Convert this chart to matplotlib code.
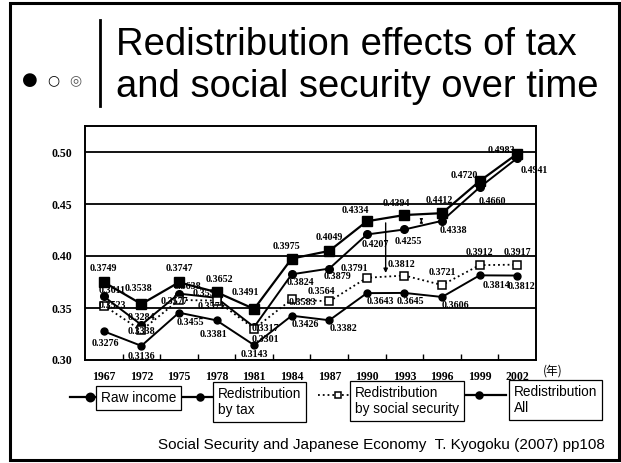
import matplotlib
matplotlib.use("Agg")
import matplotlib.pyplot as plt
from matplotlib.lines import Line2D
from matplotlib.patches import Rectangle

# --- data (Gini coefficients) ---
years = ["1967", "1972", "1975", "1978", "1981", "1984", "1987",
         "1990", "1993", "1996", "1999", "2002"]
raw_income = [0.3749, 0.3538, 0.3747, 0.3652, 0.3491, 0.3975, 0.4049,
              0.4334, 0.4394, 0.4412, 0.4720, 0.4983]
by_tax = [0.3611, 0.3338, 0.3638, 0.3598, 0.3317, 0.3824, 0.3879,
          0.4207, 0.4255, 0.4338, 0.4660, 0.4941]
by_social_security = [0.3523, 0.3284, 0.3577, 0.3571, 0.3301, 0.3583, 0.3564,
                      0.3791, 0.3812, 0.3721, 0.3912, 0.3917]
redistribution_all = [0.3276, 0.3136, 0.3455, 0.3381, 0.3143, 0.3426, 0.3382,
                      0.3643, 0.3645, 0.3606, 0.3814, 0.3812]

W, H = 621, 463


def px(x, y):
    """Pixel position -> figure fraction."""
    return x / W, 1 - y / H


fig = plt.figure(figsize=(W / 100, H / 100), dpi=100)

# slide frame
fig.add_artist(Rectangle(px(10, 460), 609 / W, 457 / H, transform=fig.transFigure,
                         fill=False, lw=2.2, ec="black"))

# title block
by = 1 - 80 / H
fig.text(30 / W, by, "\u25CF", fontsize=13, ha="center", va="center", family="DejaVu Sans")
fig.text(53 / W, by, "\u25CB", fontsize=10, ha="center", va="center", family="DejaVu Sans")
fig.text(75 / W, by, "\u25CE", fontsize=10, ha="center", va="center", family="DejaVu Sans",
         color="#555555")
fig.add_artist(Line2D([100 / W, 100 / W], [1 - 20 / H, 1 - 106 / H],
                      transform=fig.transFigure, color="black", lw=2))
fig.text(116 / W, 1 - 45 / H, "Redistribution effects of tax", fontsize=27.5,
         family="Liberation Sans", va="center", ha="left")
fig.text(116 / W, 1 - 87 / H, "and social security over time", fontsize=27.5,
         family="Liberation Sans", va="center", ha="left")

# chart
left, bottom = px(85, 360)
right, top = px(536, 126)
ax = fig.add_axes([left, bottom, right - left, top - bottom])
x = list(range(len(years)))

ax.set_xlim(-0.5, len(years) - 0.5)
ax.set_ylim(0.30, 0.525)
for g in [0.35, 0.40, 0.45, 0.50]:
    ax.axhline(g, color="black", lw=1.3, zorder=1)
for s in ax.spines.values():
    s.set_linewidth(1.4)

ax.plot(x, raw_income, "-", color="black", lw=1.6, marker="s", ms=6.5, zorder=3)
ax.plot(x, by_tax, "-", color="black", lw=1.4, marker="o", ms=5.5, zorder=3)
ax.plot(x, by_social_security, ":", color="black", lw=1.3, marker="s", ms=5.5,
        mfc="white", mec="black", mew=1.1, zorder=3)
ax.plot(x, redistribution_all, "-", color="black", lw=1.4, marker="o", ms=5, zorder=3)

# value labels, offsets in points
lab_kw = dict(fontsize=7.2, family="Liberation Serif", fontweight="bold",
              textcoords="offset points", ha="center", va="center", zorder=4)
raw_off = [(0, 10), (-2, 11), (0, 10), (2, 9), (-6, 12), (-4, 9), (0, 10),
           (-8, 8), (-6, 8), (-2, 9), (-11, 4), (-11, 2)]
tax_off = [(6, 4), (0, -5), (6, 5), (-7, 3), (8, -1), (6, -6), (6, -6),
           (6, -7), (3, -9), (8, -7), (9, -10), (12, -9)]
ss_off = [(6, 0), (0, 9), (-3, -1), (-4, -4), (8, -8), (8, -2), (-6, 7),
          (-9, 7), (-2, 8), (0, 9), (0, 9), (0, 9)]
all_off = [(1, -9), (0, -8), (8, -7), (-2, -10), (0, -7), (10, -6), (10, -6),
           (10, -6), (4, -6), (10, -6), (12, -7), (3, -8)]
for series, offs in [(raw_income, raw_off), (by_tax, tax_off),
                     (by_social_security, ss_off), (redistribution_all, all_off)]:
    for xi, v, o in zip(x, series, offs):
        ax.annotate(f"{v:.4f}", (xi, v), xytext=o, **lab_kw)

# arrows drawn on the chart
ax.annotate("", xy=(7.5, 0.381), xytext=(7.5, 0.4345),
            arrowprops=dict(arrowstyle="-|>", color="black", lw=1, mutation_scale=6))
ax.annotate("", xy=(8.45, 0.4375), xytext=(8.45, 0.430),
            arrowprops=dict(arrowstyle="<|-|>", color="black", lw=0.8, mutation_scale=4))

ax.set_xticks(x)
ax.set_xticklabels(years)
ax.set_yticks([0.30, 0.35, 0.40, 0.45, 0.50])
ax.set_yticklabels(["0.30", "0.35", "0.40", "0.45", "0.50"])
ax.set_xticks([i + 0.5 for i in x[:-1]], minor=True)
ax.tick_params(axis="x", which="major", length=0, pad=8)
ax.tick_params(axis="x", which="minor", length=4, direction="in", width=1)
ax.tick_params(axis="y", length=0, pad=9)
for t in ax.get_xticklabels() + ax.get_yticklabels():
    t.set_fontfamily("Liberation Serif")
    t.set_fontweight("bold")
    t.set_fontsize(8.5)
fig.text(553 / W, 1 - 371 / H, "(年)", fontsize=8.5, ha="center", va="center",
         family=["Noto Sans CJK JP", "DejaVu Sans"])


# legend row drawn by hand
def seg(x0, x1, y, ls="-", lw=1.6):
    fig.add_artist(Line2D([x0 / W, x1 / W], [1 - y / H, 1 - y / H], transform=fig.transFigure,
                          color="black", ls=ls, lw=lw))


def mark(xc, y, m, mfc="black", ms=6):
    fig.add_artist(Line2D([xc / W], [1 - y / H], transform=fig.transFigure, marker=m,
                          ms=ms, mfc=mfc, mec="black", mew=1.1, ls="none"))


box_kw = dict(fontsize=9.8, family="Liberation Sans", ha="left", va="center",
              linespacing=1.15,
              bbox=dict(boxstyle="square,pad=0.35", fc="white", ec="black", lw=0.9))

seg(70, 96, 397)
mark(90, 397, "o")
fig.text(101 / W, 1 - 398 / H, "Raw income", **box_kw)
seg(183, 213, 397)
mark(200, 397, "o", ms=5)
fig.text(218 / W, 1 - 402 / H, "Redistribution\nby tax", **box_kw)
seg(318, 350, 395, ls=":", lw=1.3)
mark(338, 395, "s", mfc="white", ms=5)
fig.text(355 / W, 1 - 401 / H, "Redistribution\nby social security", **box_kw)
seg(466, 506, 395)
mark(479, 395, "o", ms=5)
fig.text(514 / W, 1 - 400 / H, "Redistribution\nAll", **box_kw)

fig.text(605 / W, 1 - 445 / H, "Social Security and Japanese Economy  T. Kyogoku (2007) pp108",
         fontsize=11, family="Liberation Sans", ha="right", va="center")

fig.savefig("out.png", dpi=100)
